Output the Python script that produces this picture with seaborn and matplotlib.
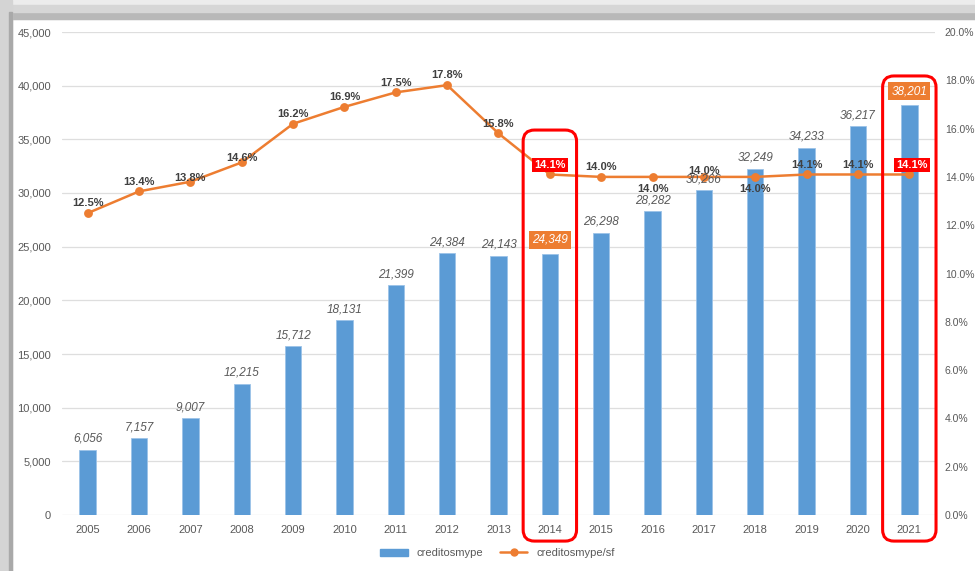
import matplotlib
matplotlib.use("Agg")
import numpy as np
import pandas as pd
import matplotlib.pyplot as plt
import seaborn as sns
from matplotlib.patches import FancyBboxPatch, Rectangle, Patch
from matplotlib.lines import Line2D

years = ["2005", "2006", "2007", "2008", "2009", "2010", "2011", "2012", "2013",
         "2014", "2015", "2016", "2017", "2018", "2019", "2020", "2021"]
creditos = [6056, 7157, 9007, 12215, 15712, 18131, 21399, 24384, 24143,
            24349, 26298, 28282, 30266, 32249, 34233, 36217, 38201]
ratio = [12.5, 13.4, 13.8, 14.6, 16.2, 16.9, 17.5, 17.8, 15.8,
         14.1, 14.0, 14.0, 14.0, 14.0, 14.1, 14.1, 14.1]
highlight = ["2014", "2021"]

BLUE = "#5B9BD5"
ORANGE = "#ED7D31"
GRAY = "#595959"

sns.set_style("white")
plt.rcParams["font.family"] = ["Liberation Sans", "DejaVu Sans"]

df = pd.DataFrame({"year": years, "creditos": creditos, "ratio": ratio})

fig = plt.figure(figsize=(9.75, 5.71), dpi=100)
W, H = 975, 571

# shadow frame (top and left)
fig.patches.append(Rectangle((0, 1 - 19 / H), 1, 19 / H, transform=fig.transFigure,
                             color="#ececec", zorder=0))
fig.patches.append(Rectangle((0, 1 - 19 / H), 1, 7 / H, transform=fig.transFigure,
                             color="#b8b8b8", zorder=0))
fig.patches.append(Rectangle((0, 1 - 12 / H), 1, 7 / H, transform=fig.transFigure,
                             color="#d6d6d6", zorder=0))
fig.patches.append(Rectangle((0, 0), 12 / W, 1, transform=fig.transFigure,
                             color="#d4d4d4", zorder=0))
fig.patches.append(Rectangle((9 / W, 0), 3 / W, 1 - 12 / H, transform=fig.transFigure,
                             color="#a9a9a9", zorder=0))

ax = fig.add_axes([62 / W, 1 - 515 / H, 873 / W, 483 / H])
sns.barplot(data=df, x="year", y="creditos", color=BLUE, width=0.32,
            saturation=1, edgecolor="#9cc3e8", linewidth=0.6, ax=ax, zorder=2)
ax.set_ylim(0, 45000)
ax.set_xlim(-0.5, len(years) - 0.5)
ax.set_yticks(np.arange(0, 45001, 5000))
ax.set_yticklabels([f"{v:,}" for v in range(0, 45001, 5000)])
ax.yaxis.grid(True, color="#dedede", linewidth=0.9, zorder=0)
ax.set_axisbelow(True)
for s in ax.spines.values():
    s.set_visible(False)
ax.tick_params(axis="both", length=0, colors=GRAY, labelsize=8)
ax.tick_params(axis="x", pad=7)
ax.tick_params(axis="y", pad=8)
ax.set_xlabel("")
ax.set_ylabel("")

ax2 = ax.twinx()
sns.pointplot(data=df, x="year", y="ratio", color=ORANGE, markers="o",
              markersize=5, linewidth=1.8, ax=ax2, zorder=3)
ax2.set_ylim(0, 20)
ax2.set_xlim(-0.5, len(years) - 0.5)
ax2.set_yticks(np.arange(0, 20.1, 2))
ax2.set_yticklabels([f"{v:.1f}%" for v in np.arange(0, 20.1, 2)])
for s in ax2.spines.values():
    s.set_visible(False)
ax2.tick_params(axis="y", length=0, colors=GRAY, labelsize=7.5, pad=7)
ax2.set_ylabel("")
ax2.set_xlabel("")

# bar labels
for i, (yr, v) in enumerate(zip(years, creditos)):
    if yr in highlight:
        ax2.annotate(f"{v:,}", (i, v * 20 / 45000), xytext=(0, 10), textcoords="offset points",
                     ha="center", va="center", fontsize=8.5, style="italic", color="white",
                     bbox=dict(boxstyle="square,pad=0.25", fc=ORANGE, ec="none"), zorder=6)
    else:
        ax2.annotate(f"{v:,}", (i, v * 20 / 45000), xytext=(0, 8), textcoords="offset points",
                     ha="center", va="center", fontsize=8.5, style="italic", color=GRAY, zorder=6)

# line labels
line_offsets = {"2007": 3, "2008": 3, "2016": -9, "2017": 4, "2018": -9}
for i, (yr, v) in enumerate(zip(years, ratio)):
    dy = line_offsets.get(yr, 7)
    if yr in highlight:
        ax2.annotate(f"{v:.1f}%", (i, v), xytext=(2 if yr == "2021" else 0, 7),
                     textcoords="offset points", ha="center", va="center",
                     fontsize=8, fontweight="bold", color="white",
                     bbox=dict(boxstyle="square,pad=0.2", fc="#ff0000", ec="none"), zorder=7)
    else:
        ax2.annotate(f"{v:.1f}%", (i, v), xytext=(0, dy), textcoords="offset points",
                     ha="center", va="center", fontsize=8, fontweight="bold",
                     color="#404040", zorder=6)

# red highlight frames
px_x = len(years) / 873
px_y = 20 / 483
for yr, top in [("2014", 15.94), ("2021", 18.18)]:
    i = years.index(yr)
    half = 0.52
    bottom = -1.08
    box = FancyBboxPatch((i - half, bottom), 2 * half, top - bottom,
                         boxstyle="round,pad=0,rounding_size=0.22",
                         mutation_aspect=px_y / px_x, fill=False, ec="#ff0000",
                         lw=2.2, clip_on=False, zorder=8)
    ax2.add_patch(box)

handles = [Patch(color=BLUE, label="creditosmype"),
           Line2D([0], [0], color=ORANGE, marker="o", markersize=5, lw=1.8,
                  label="creditosmype/sf")]
fig.legend(handles=handles, loc="center", bbox_to_anchor=(0.51, 1 - 553 / H), ncol=2,
           frameon=False, fontsize=8, labelcolor=GRAY,
           handlelength=2.5, handleheight=0.6, columnspacing=1.5)

fig.savefig("out.png", dpi=100)
